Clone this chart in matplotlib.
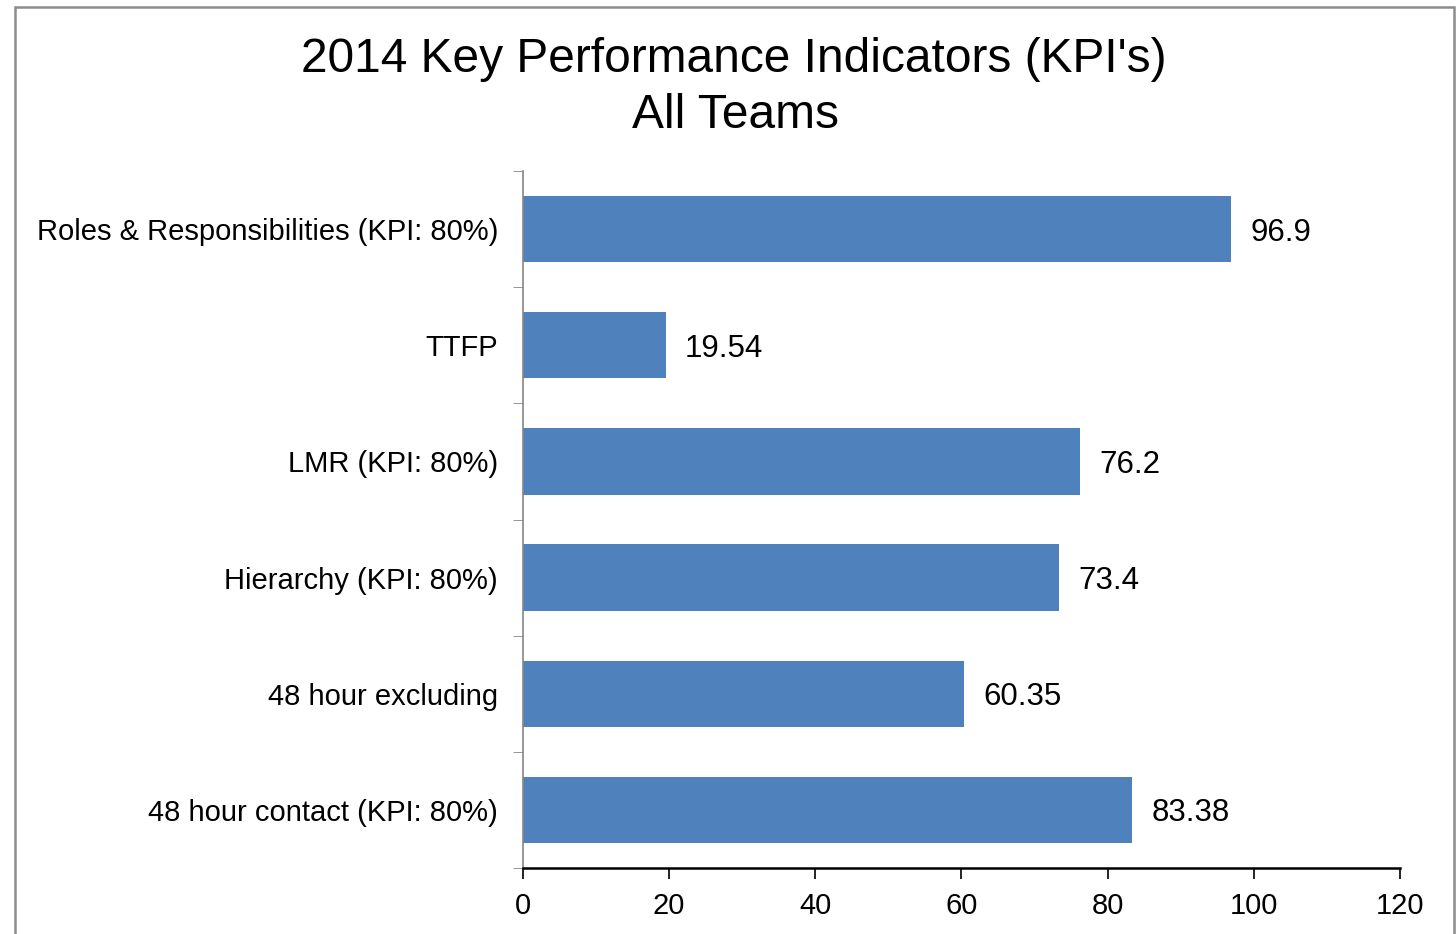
import numpy as np
import matplotlib.pyplot as plt
from matplotlib.patches import Rectangle

plt.rcParams['font.family'] = ['Liberation Sans', 'DejaVu Sans']

categories = ['48 hour contact (KPI: 80%)', '48 hour excluding', 'Hierarchy (KPI: 80%)',
              'LMR (KPI: 80%)', 'TTFP', 'Roles & Responsibilities (KPI: 80%)']
values = [83.38, 60.35, 73.4, 76.2, 19.54, 96.9]
value_labels = ['83.38', '60.35', '73.4', '76.2', '19.54', '96.9']
xticks = [0, 20, 40, 60, 80, 100, 120]

W, H = 1456, 934
fig = plt.figure(figsize=(W / 100, H / 100), dpi=100)

# outer chart border (Excel-style)
fig.patches.append(Rectangle((15 / W, 1 - 940 / H), (1454 - 15) / W, (940 - 7) / H,
                             transform=fig.transFigure, fill=False,
                             edgecolor='#8c8c8c', linewidth=1.8))

ax = fig.add_axes([523 / W, 1 - 868 / H, (1400 - 523) / W, (868 - 171) / H])
y = np.arange(len(categories))
ax.barh(y, values, height=0.57, color='#4F81BD')

for yi, v, lab in zip(y, values, value_labels):
    ax.text(v + 2.6, yi, lab, va='center_baseline', ha='left', fontsize=22.5)

ax.set_xlim(0, 120)
ax.set_ylim(-0.5, len(categories) - 0.5)
ax.set_xticks(xticks)
ax.set_xticklabels([str(t) for t in xticks], fontsize=21)
ax.set_yticks(y)
ax.set_yticklabels(categories, fontsize=21)
ax.set_yticks(np.arange(-0.5, len(categories)), minor=True)
ax.tick_params(axis='y', which='major', length=0, pad=18)
ax.tick_params(axis='y', which='minor', length=7, color='#868686', direction='out')
ax.tick_params(axis='x', which='major', length=8, width=1.2, color='black',
               direction='out', pad=9)

for s in ['top', 'right']:
    ax.spines[s].set_visible(False)
ax.spines['left'].set_color('#868686')
ax.spines['left'].set_linewidth(1.2)
ax.spines['bottom'].set_color('black')
ax.spines['bottom'].set_linewidth(1.8)

fig.text(734 / W, 1 - 59 / H, "2014 Key Performance Indicators (KPI's)",
         ha='center', va='center', fontsize=34.5)
fig.text(735 / W, 1 - 115 / H, "All Teams",
         ha='center', va='center', fontsize=34.5)

fig.savefig('out.png', dpi=100)
